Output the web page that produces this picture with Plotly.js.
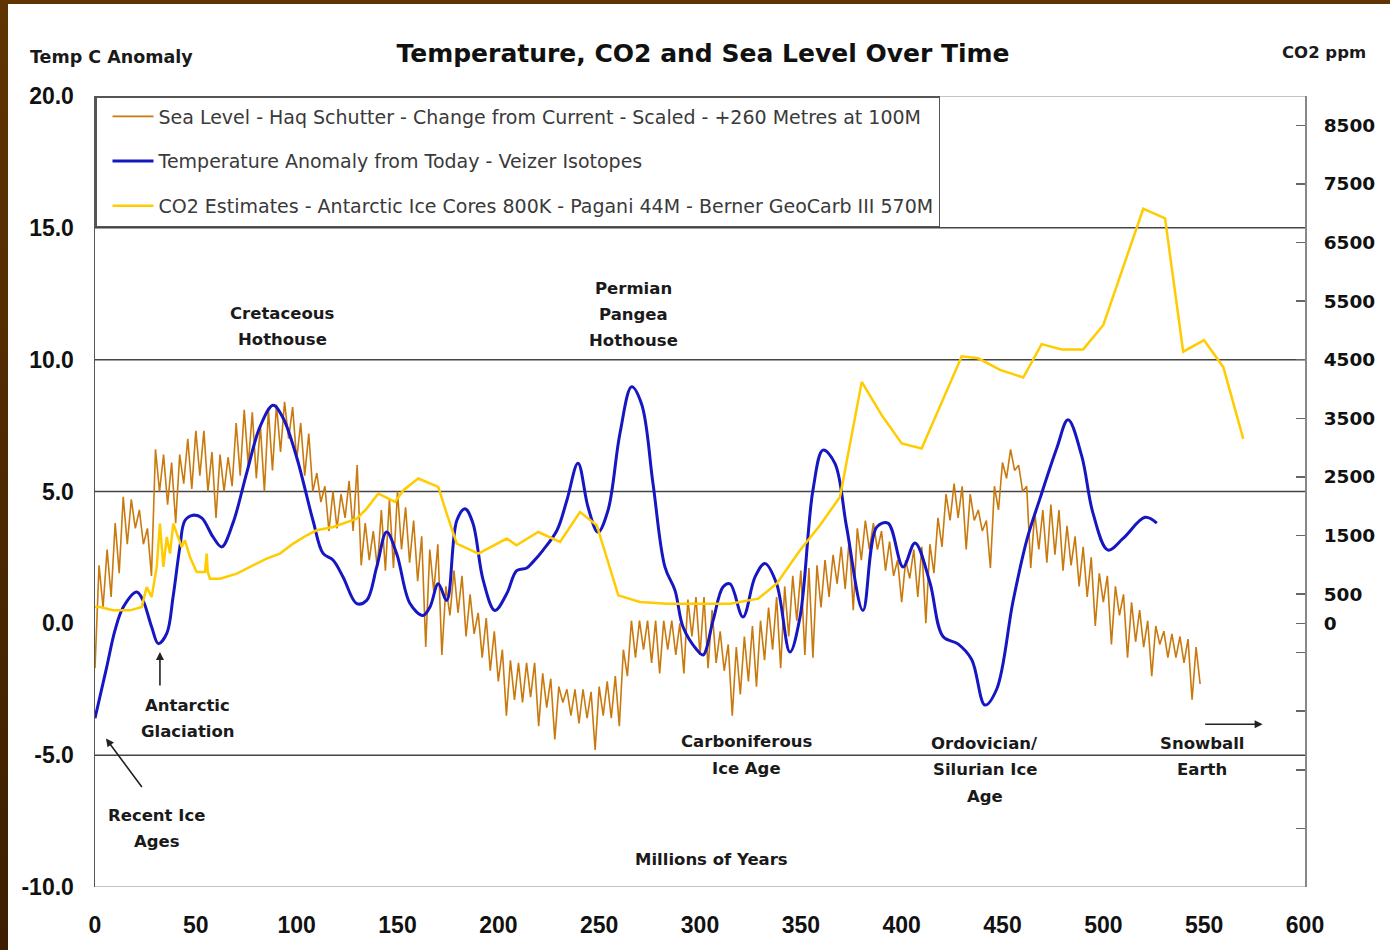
<!DOCTYPE html>
<html><head><meta charset="utf-8">
<script src="https://cdn.plot.ly/plotly-3.0.1.min.js"></script>
<style>
html,body{margin:0;padding:0;width:1390px;height:950px;overflow:hidden;background:linear-gradient(#603400,#3c1f00);}
#chart{position:absolute;left:8px;top:4px;width:1382px;height:946px;background:#fff;}
</style></head><body><div id="chart"></div><script>
// ---- Data ----
const xTicks = [0,50,100,150,200,250,300,350,400,450,500,550,600];
const tempTicks = [-10,-5,0,5,10,15,20];
const tempTickText = ['-10.0','-5.0','0.0','5.0','10.0','15.0','20.0'];
const co2TickVals = [-4500,-3500,-2500,-1500,-500,0,500,1500,2500,3500,4500,5500,6500,7500,8500];
const co2TickText = ['','','','','','0','500','1500','2500','3500','4500','5500','6500','7500','8500'];

// Temperature anomaly (Veizer isotopes), deg C, by age in Myr
const tempAge = [0,5.8,9.9,13.9,20.7,23.8,28.1,31.4,35.6,38.7,42.1,44.6,48.6,52.9,58.5,62.8,68.4,75.2,81.8,88.3,93.2,100,108.1,113.1,118,123,129.8,134.7,139.7,144.6,149.6,156.2,162.6,166.1,170.2,174.4,179.4,183.5,187.4,192.5,198.3,204.2,209.1,214.1,217.2,222.1,229.1,234,239.5,244.5,249.4,254.4,260.3,266.1,271.1,276.7,282.6,287.6,291.6,298.4,301.5,306.5,311.4,314.9,321.3,327.3,332.2,338,344.6,349.6,356,361,366.9,372.7,380.8,387.6,393.2,400.7,406.6,414,420.5,427.9,434.7,441.3,447.1,455.2,462,468.6,476.9,482.5,489.3,494.9,502.3,509.8,520.7,526.5];
const tempAnomaly = [-3.6,-1.66,-0.27,0.6,1.19,0.87,-0.14,-0.77,-0.38,1.0,2.9,3.9,4.1,4.0,3.28,2.9,3.8,5.7,7.45,8.27,7.8,6.3,3.9,2.65,2.4,1.76,0.75,0.87,2.14,3.46,2.64,0.75,0.3,0.62,1.5,0.87,3.9,4.35,3.8,1.63,0.49,1.13,2.0,2.1,2.33,2.77,3.53,4.67,6.07,4.4,3.46,4.29,7.2,8.97,8.3,5.3,2.14,1.25,-0.14,-1.0,-1.2,0.11,1.38,1.5,0.24,1.76,2.27,1.5,-1.09,0.24,5.05,6.57,6.07,3.65,0.49,3.65,3.8,2.14,3.05,1.55,-0.5,-0.78,-1.37,-3.1,-2.5,0.83,3.15,4.74,6.64,7.72,6.34,4.17,2.78,3.22,4.02,3.8];

// CO2 estimates, ppm, by age in Myr
const co2Age = [0,2.5,8.9,17.4,23.2,25.6,28.1,30.6,32.2,33.9,35.6,37.2,38.8,41.3,43,44.6,47.1,50.4,54.5,55.4,55.9,57,62,70.3,76.9,85.1,91.7,98.3,105,109.9,118.2,129.8,134.7,140.5,148.8,152.9,160.3,170.2,174.4,179.4,190.1,199.2,204.2,209,219.8,230.6,240.5,248.8,259.5,270.2,283.5,300,315,328.9,338,349.6,359.5,369.4,380.2,390.1,400,409.9,429.8,438,448.8,460.3,469.4,479.3,490,500,519.8,530.6,539.6,549.9,559.5,569.4];
const co2ppm = [280,280,222,222,279,620,449,962,1703,962,1474,1190,1703,1474,1303,1418,1132,876,876,1190,876,763,763,849,962,1105,1190,1361,1503,1588,1645,1788,1959,2215,2072,2272,2471,2328,1874,1361,1190,1361,1447,1332,1559,1389,1901,1674,478,364,336,336,336,422,678,1247,1674,2157,4121,3553,3069,2984,4557,4523,4326,4196,4765,4675,4675,5093,7076,6912,4636,4834,4372,3149];

// Sea level (Haq Schutter, scaled), sampled every 2 Myr from 0 Myr
const seaStartAge = 0, seaStepAge = 2;
const seaLevel = [
-1.7,2.2,0.6,2.8,1.0,3.8,1.9,4.8,3.0,4.7,
3.6,4.3,3.0,3.6,1.8,6.6,5.0,6.4,4.5,6.1,
3.8,6.4,5.3,7.0,5.1,7.3,5.6,7.3,5.0,6.5,
4.0,6.4,5.0,6.3,5.2,7.6,5.6,8.1,6.0,8.0,
5.5,7.5,5.0,8.1,5.8,8.3,6.5,8.4,7.0,8.2,
6.2,7.6,5.6,7.2,5.0,5.7,4.6,5.2,3.5,5.0,
3.6,4.9,4.0,5.4,3.5,6.0,2.2,3.8,2.4,3.5,
2.1,4.3,2.0,4.7,2.1,5.0,2.8,4.4,2.3,3.9,
1.6,3.3,-0.9,2.8,1.2,3.0,-1.2,1.4,0.3,2.0,
0.4,1.8,-0.5,1.1,-0.4,0.4,-1.3,0.2,-1.8,-0.3,
-2.2,-1.0,-3.5,-1.4,-2.9,-1.5,-3.0,-1.5,-2.8,-1.5,
-3.9,-1.9,-3.2,-2.1,-4.4,-2.4,-3.0,-2.5,-3.5,-2.5,
-3.8,-2.5,-3.6,-2.6,-4.8,-2.4,-3.5,-2.2,-3.6,-2.0,
-3.9,-1.0,-2.0,0.1,-1.3,0.1,-1.0,0.1,-1.5,0.1,
-1.9,0.1,-1.0,0.1,-1.2,0.0,-1.9,0.9,-0.5,1.0,
-1.2,1.0,-1.7,0.5,-1.5,-0.3,-1.8,-0.8,-3.5,-0.9,
-2.7,-0.5,-2.2,-0.1,-2.4,0.1,-1.4,0.6,-1.0,1.0,
-1.7,1.4,-0.5,1.8,0.1,2.0,-1.2,2.1,-1.3,2.2,
0.6,2.4,1.0,2.6,1.5,2.9,1.3,3.2,0.5,3.6,
2.4,3.9,2.8,3.8,2.8,3.5,2.0,3.1,1.8,2.4,
0.8,2.4,1.7,2.8,1.0,2.9,0.0,3.0,1.9,4.0,
2.9,4.9,3.9,5.3,4.0,5.2,2.8,4.9,3.9,4.3,
3.5,3.9,2.1,5.2,4.3,6.1,5.5,6.6,5.8,6.0,
5.0,5.2,2.1,4.2,2.8,4.3,2.3,4.5,2.6,4.3,
2.0,3.7,2.2,3.3,1.4,2.9,1.0,2.5,-0.1,1.9,
0.8,1.8,-0.8,1.4,0.3,1.1,-1.3,0.8,-0.7,0.5,
-0.9,0.1,-2.0,-0.1,-0.8,-0.3,-1.3,-0.4,-1.3,-0.5,
-1.5,-0.6,-2.9,-0.9,-2.3
];
const seaAge = seaLevel.map((_, i) => seaStartAge + i * seaStepAge);

const gridY = [15,10,5,-5];
const borderY = [20,-10];

// ---- Styling ----
const BOLD_ARIAL = {family:'Liberation Sans, Arial, sans-serif', size:23, color:'#111', weight:'bold'};
const VERD_B = 'DejaVu Sans, Verdana, sans-serif';

const traces = [
  {x: seaAge, y: seaLevel, mode:'lines', name:'Sea Level - Haq Schutter - Change from Current - Scaled - +260 Metres at 100M',
   line:{color:'#C97A0E', width:1.6}, legendgroup:'g1', hoverinfo:'skip'},
  {x: tempAge, y: tempAnomaly, mode:'lines', name:'Temperature Anomaly from Today - Veizer Isotopes',
   line:{color:'#1616C2', width:3, shape:'spline', smoothing:1}, legendgroup:'g2', hoverinfo:'skip'},
  {x: co2Age, y: co2ppm, yaxis:'y2', mode:'lines', name:'CO2 Estimates - Antarctic Ice Cores 800K - Pagani 44M - Berner GeoCarb III 570M',
   line:{color:'#FFCC00', width:2.5}, legendgroup:'g3', hoverinfo:'skip'}
];

const shapes = [];
gridY.forEach(v => shapes.push({type:'line', xref:'paper', x0:0, x1:1, yref:'y', y0:v, y1:v, line:{color:'#444', width:1.5}, layer:'below'}));
borderY.forEach(v => shapes.push({type:'line', xref:'paper', x0:0, x1:1, yref:'y', y0:v, y1:v, line:{color:'#c4c4c4', width:2}, layer:'below'}));

const noteFont = {family:VERD_B, size:16.5, color:'#1a1a1a', weight:'bold'};
const notes = [
  ['Cretaceous', 93.2, 11.76], ['Hothouse', 93.2, 10.77],
  ['Permian', 266.8, 12.70], ['Pangea', 266.8, 11.72], ['Hothouse', 266.8, 10.73],
  ['Antarctic', 46.1, -3.11], ['Glaciation', 46.1, -4.10],
  ['Recent Ice', 30.7, -7.28], ['Ages', 30.7, -8.27],
  ['Carboniferous', 323.3, -4.48], ['Ice Age', 323.3, -5.50],
  ['Ordovician/', 441.3, -4.55], ['Silurian Ice', 441.3, -5.54], ['Age', 441.3, -6.56],
  ['Snowball', 548.9, -4.55], ['Earth', 548.9, -5.54],
  ['Millions of Years', 305.9, -8.95]
];
const annotations = notes.map(n => ({text:n[0], x:n[1], y:n[2], xref:'x', yref:'y', showarrow:false, xanchor:'center', yanchor:'middle', font:noteFont}));
// arrows
const arrowStyle = {text:'', showarrow:true, arrowhead:2, arrowsize:1, arrowwidth:1.6, arrowcolor:'#222', xref:'x', yref:'y'};
annotations.push(Object.assign({}, arrowStyle, {x:32.2, y:-1.09, ax:0, ay:35}));
annotations.push(Object.assign({}, arrowStyle, {x:5.45, y:-4.37, ax:37, ay:50}));
annotations.push(Object.assign({}, arrowStyle, {x:579, y:-3.83, ax:-59, ay:0}));
// axis titles
annotations.push({text:'Temp C Anomaly', xref:'paper', yref:'paper', x:(28-95)/1210, y:(887-57)/791, xanchor:'left', yanchor:'middle', showarrow:false,
  font:{family:VERD_B, size:17.5, color:'#1a1a1a', weight:'bold'}});
annotations.push({text:'CO2 ppm', xref:'paper', yref:'paper', x:(1280-95)/1210, y:(887-53)/791, xanchor:'left', yanchor:'middle', showarrow:false,
  font:{family:VERD_B, size:16.5, color:'#1a1a1a', weight:'bold'}});

const layout = {
  width:1382, height:946,
  margin:{l:87, r:85, t:92, b:63},
  paper_bgcolor:'#fff', plot_bgcolor:'#fff',
  title:{text:'Temperature, CO2 and Sea Level Over Time', font:{family:VERD_B, size:25, color:'#111', weight:'bold'},
    x:0.5025, xref:'paper', xanchor:'center', y:1-49/946, yref:'container', yanchor:'middle'},
  showlegend:true,
  legend:{x:0, y:1, xanchor:'left', yanchor:'top', bgcolor:'#fff', bordercolor:'#555', borderwidth:1.5, indentation:11,
    font:{family:'DejaVu Sans, Verdana, sans-serif', size:19, color:'#3a3a3a'}, tracegroupgap:17, traceorder:'grouped', itemwidth:41},
  xaxis:{range:[0,600], tickvals:xTicks, ticks:'', showline:false, showgrid:false, zeroline:false, tickfont:BOLD_ARIAL, ticklabelstandoff:22, fixedrange:true},
  xaxis2:{overlaying:'x', anchor:'free', position:1/3, side:'top', range:[0,600], tickvals:xTicks, ticks:'outside', ticklen:8, tickwidth:2, tickcolor:'#000',
    showline:true, linecolor:'#000', linewidth:2.5, showticklabels:false, showgrid:false, zeroline:false, fixedrange:true},
  yaxis:{range:[-10,20], tickvals:tempTicks, ticktext:tempTickText, ticks:'', showline:true, linecolor:'#555', linewidth:1.5, showgrid:false, zeroline:false,
    tickfont:BOLD_ARIAL, ticklabelstandoff:15, fixedrange:true},
  yaxis2:{overlaying:'y', side:'right', anchor:'x', range:[-4500,9000], tickvals:co2TickVals, ticktext:co2TickText, ticks:'inside', ticklen:9, tickwidth:1.5, tickcolor:'#666',
    showline:true, linecolor:'#888', linewidth:2, showgrid:false, zeroline:false,
    tickfont:{family:VERD_B, size:18.5, color:'#111', weight:'bold'}, ticklabelstandoff:13, fixedrange:true},
  shapes:shapes,
  annotations:annotations
};

Plotly.newPlot('chart', traces, layout, {staticPlot:true, displayModeBar:false});
</script></body></html>
